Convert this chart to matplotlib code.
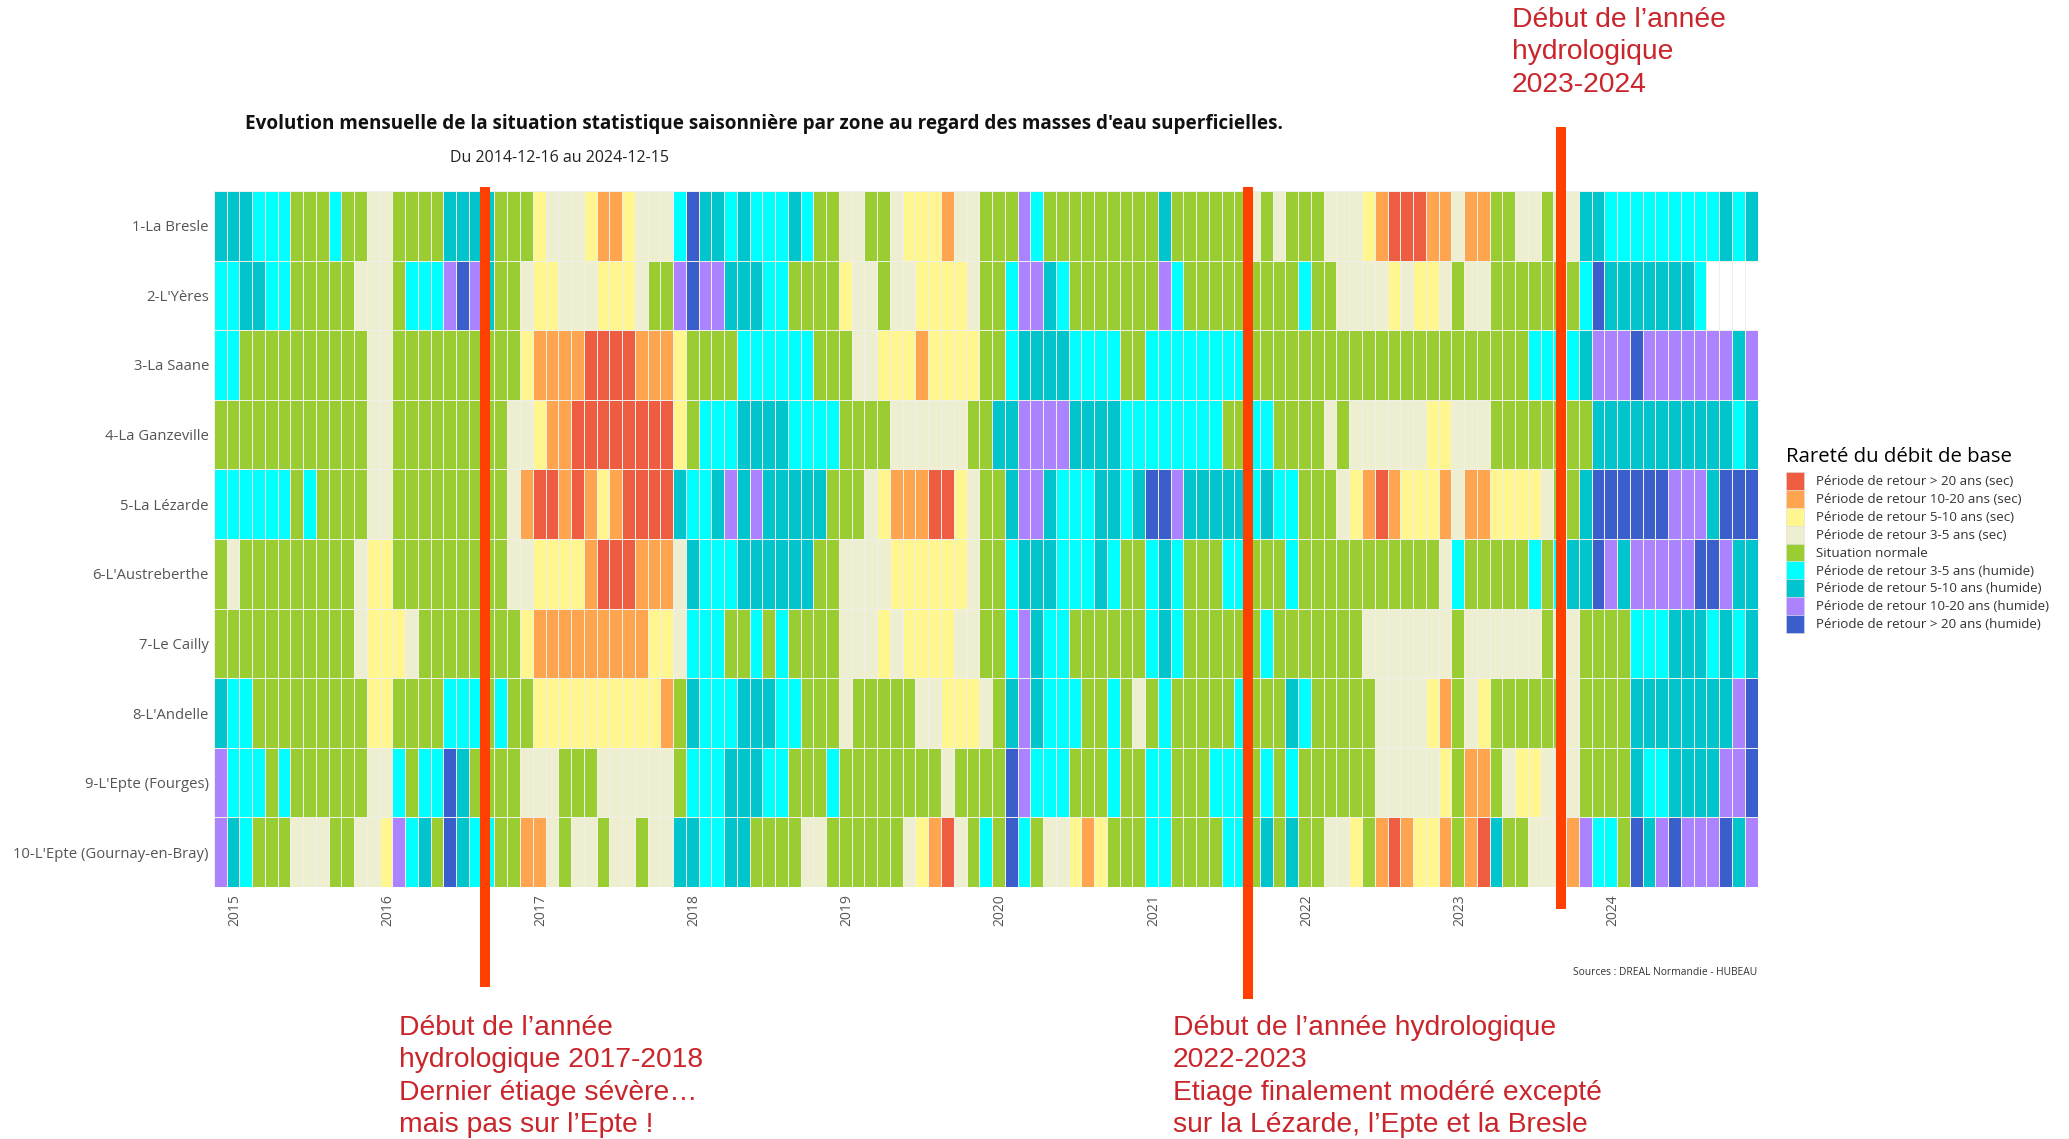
import numpy as np
import matplotlib
matplotlib.use('Agg')
import matplotlib.pyplot as plt
from matplotlib.colors import ListedColormap, BoundaryNorm
from matplotlib.patches import Patch

W, H = 2069, 1139

zones = ['1-La Bresle', "2-L'Yères", '3-La Saane', '4-La Ganzeville', '5-La Lézarde',
         "6-L'Austreberthe", '7-Le Cailly', "8-L'Andelle", "9-L'Epte (Fourges)",
         "10-L'Epte (Gournay-en-Bray)"]
annees = ['2015', '2016', '2017', '2018', '2019', '2020', '2021', '2022', '2023', '2024']

# une lettre par mois, de 2014-12 a 2024-12 (. = pas de donnee)
# R O Y B = sec > 20, 10-20, 5-10, 3-5 / G = normal / C T P D = humide 3-5, 5-10, 10-20, > 20
bresle = 'TTTCCCGGGCGGBBGGGGTTTTGGGYBBBYOOYBBBCDTTC' 'TCCCTCGGBBGGBYYYOBBGGGPCGGGGGGGGGTGGGGGG' 'BGBGGGBBBYORRROOBOOGGBBGBBTTCCCCCCCCCTCT'
yeres = 'CCTTCCGGGGGBBBGCCCPDPTGGBYYBBBYYYBGGPDPPT' 'TTCCGGGGYBBGBBYYYYBGGCPPTCGGGGGGGPCGGGGG' 'GGGGCGGBBBBYBYYBGBBGGGGGGGCDTTTTTTTC....'
saane = 'CCGGGGGGGGGGBBGGGGGGGGGGYOOOORRRROOOYGGGG' 'CCCCCCGGGBBYYYOYYYYGGCTTTTCCCCGGCCCCCCCC' 'GGGGGGGGGGGGGGGGGGGGGGCCCCTPPPDPPPPPPPTP'
ganzeville = 'GGGGGGGGGGGGBBGGGGGGGGGBBYOORRRRRRRRYGCCC' 'TTTTCCCCGGGGBBBBBBGGTTPPPPTTTTCCCCCCCCGG' 'CCGGGGBGBBBBBBYYBBBGGGGGGGGTTTTTTTTTTTCT'
lezarde = 'CCCCCCGCGGGGBBGGGGGGGGGBORROROYORRRRTCCTP' 'TPTTTTTGGGBYOOORRYBGGTPPTCCCTTCTDDPTTTTT' 'CTCCGGGBYOROYYYOBOOYYYYBGGTDDDDDDPPPTDDD'
austreberthe = 'GBGGGGGGGGGBYYGGGGGGGGGBBYYYYORRROOOBTCCC' 'TTTTTTGGBBBBYYYYYYBGGCTTTCCCTCGGCTCGGGCC' 'GGGCGGGGGGGGGGGBCGGGGGCGCTTDPTPPPPPDDPTT'
cailly = 'GGGGGGGGGGGBYYYBGGGGGGGGYOOOOOOOOOYYBCCCG' 'GCGCGGGGBBBYBYYYYBBGGCPTCCGGGGGGCTCGGGGG' 'GCGGGGGGGBBBBBBBGBBBBBBGBBGGGGCCCTTTCTCT'
andelle = 'TCCGGGGGGGGGYYGGGGCCCGCGGYYYYYYYYYYOGTCCC' 'TTTCCGGGBGGGGGBBYYYBGTPTCCCGGCGBGCGGGGGC' 'GGGTCGGGGGBBBBYOGBYGGGGGGBGGGGTTTTTTTTPD'
fourges = 'PCCCGCGGGGGGBBCGCCDTGGGGBBBGGGBBBBBBGCCCT' 'TTCCGGGCGGGGGGGGBGGGGDPCCCGGGCGGCCGGGCCC' 'GCGCGGGGGGBBBBBYGOOGBYYBBBGGGGTCCTTTTPPD'
gournay = 'PTCGGGBBBGGBBYPCTGDTCCGGOOBGBBGBBGBBTTCCT' 'TGGGGBBGGGGGGBYORBGCGDCGBBYOYGGGCCGGGGCC' 'GTGTGGBBYGOROYYOGORTGGBBBOPCCGDTPDPPPDTP'

lignes = [bresle, yeres, saane, ganzeville, lezarde, austreberthe, cailly, andelle, fourges, gournay]

codes = 'ROYBGCTPD'
couleurs = ['#EE5C42', '#FFA54F', '#FFF68F', '#EEEED1', '#9ACD32', '#00FFFF', '#00C5CD', '#AB82FF', '#3A5FCD']
legende = ['Période de retour > 20 ans (sec)', 'Période de retour 10-20 ans (sec)',
           'Période de retour 5-10 ans (sec)', 'Période de retour 3-5 ans (sec)',
           'Situation normale', 'Période de retour 3-5 ans (humide)',
           'Période de retour 5-10 ans (humide)', 'Période de retour 10-20 ans (humide)',
           'Période de retour > 20 ans (humide)']

# mois (en colonnes) des traits rouges : debut d'annee hydrologique
debuts = [21.26, 81.07, 105.6]
traits_haut = [187, 187, 127]
traits_bas = [987, 999, 909]

grille = np.array([[codes.find(c) for c in l] for l in lignes], dtype=float)
grille = np.ma.masked_less(grille, 0)

plt.rcParams['font.family'] = ['Open Sans', 'DejaVu Sans']

fig = plt.figure(figsize=(W / 100, H / 100), dpi=100)
x0, x1, y0, y1 = 213.8, 1757.5, 191, 887
ax = fig.add_axes([x0 / W, 1 - y1 / H, (x1 - x0) / W, (y1 - y0) / H])

cmap = ListedColormap(couleurs)
norm = BoundaryNorm(np.arange(-0.5, 9.5), 9)
ax.pcolormesh(np.arange(122), np.arange(11), grille, cmap=cmap, norm=norm,
              edgecolors='#f0f0ea', linewidth=0.4)
ax.set_xlim(0, 121)
ax.set_ylim(10, 0)
for s in ax.spines.values():
    s.set_visible(False)

ax.set_yticks(np.arange(10) + 0.5)
ax.set_yticklabels(zones, fontsize=10.7, color='#555555')
ax.set_xticks(np.arange(10) * 12 + 1.65)
ax.set_xticklabels(annees, rotation=90, fontsize=10, color='#555555')
ax.tick_params(length=0, pad=3.5)
ax.tick_params(axis='x', pad=5)

for x, a, b in zip(debuts, traits_haut, traits_bas):
    px = x0 + x * (x1 - x0) / 121
    fig.add_artist(plt.Line2D([px / W, px / W], [1 - a / H, 1 - b / H], color='#FF4000', lw=7.2, solid_capstyle='butt'))

fig.text(245 / W, 1 - 124.5 / H, "Evolution mensuelle de la situation statistique saisonnière par zone au regard des masses d'eau superficielles.",
         fontsize=13.63, fontweight='bold', color='#111111', va='center')
fig.text(450 / W, 1 - 158 / H, 'Du 2014-12-16 au 2024-12-15', fontsize=11.5, color='#222222', va='center')
fig.text(x1 / W, 1 - 972.5 / H, 'Sources : DREAL Normandie - HUBEAU', fontsize=7.4, color='#333333', ha='right', va='center')

rouge = '#C9252B'
def note(x, y, txt):
    fig.text(x / W, 1 - y / H, txt, fontsize=20.3, color=rouge, family='Liberation Sans', va='top', linespacing=1.32)

note(1512, 7, "Début de l’année\nhydrologique\n2023-2024")
note(399, 1015, "Début de l’année\nhydrologique 2017-2018\nDernier étiage sévère…\nmais pas sur l’Epte !")
note(1173, 1015, "Début de l’année hydrologique\n2022-2023\nEtiage finalement modéré excepté\nsur la Lézarde, l’Epte et la Bresle")

handles = [Patch(facecolor=c, edgecolor='#dddddd', linewidth=0.4) for c in couleurs]
leg = fig.legend(handles, legende, title='Rareté du débit de base', loc='upper left',
                 bbox_to_anchor=(1775 / W, 1 - 436 / H), frameon=False, fontsize=9.6,
                 title_fontsize=14.7, labelspacing=0, handlelength=1.35, handleheight=1.68,
                 handletextpad=0.9, borderpad=0.3, labelcolor='#333333')
leg._legend_box.align = 'left'
leg._legend_box.sep = 4

fig.savefig('out.png', dpi=100)
